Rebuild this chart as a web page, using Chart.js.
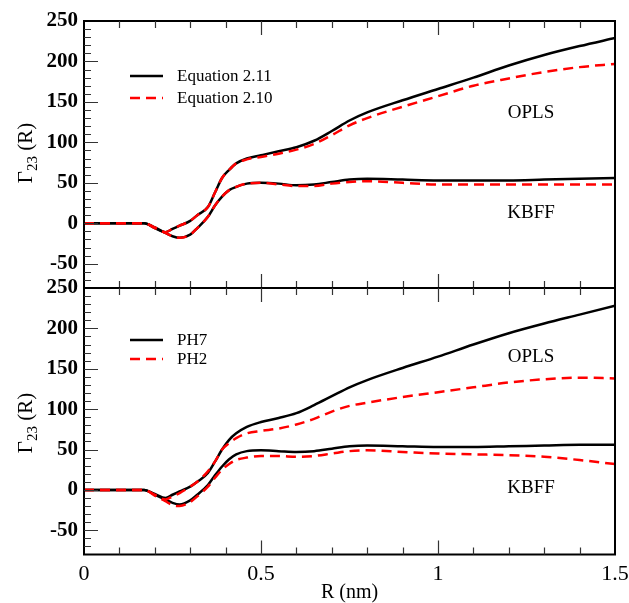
<!DOCTYPE html>
<html>
<head>
<meta charset="utf-8">
<script src="https://cdn.jsdelivr.net/npm/chart.js@4.4.1/dist/chart.umd.min.js"></script>
<style>
  body { margin: 0; background: #fff; }
  .wrap { position: relative; width: 629px; height: 603px; }
  canvas { position: absolute; left: 0; top: 0; }
</style>
</head>
<body>
<div class="wrap">
  <canvas id="topChart" width="629" height="603"></canvas>
  <canvas id="bottomChart" width="629" height="603"></canvas>
</div>
<script>

// =======================
// DATA
// =======================

const R = [0, 0.1, 0.17, 0.2, 0.23, 0.25, 0.27, 0.3, 0.32, 0.35, 0.37, 0.39, 0.41, 0.43, 0.46, 0.5,
           0.55, 0.6, 0.65, 0.7, 0.75, 0.8, 0.9, 1.0, 1.1, 1.2, 1.3, 1.4, 1.5];

// top panel
const eq211Opls = [0, 0, 0, -5, -11, -7, -3, 3, 10, 20, 38, 56, 66, 74, 80, 84,
                   89, 94, 102, 114, 127, 137, 152, 166, 180, 195, 208, 219, 229];
const eq210Opls = [0, 0, 0, -5, -11, -7, -3, 3, 10, 20, 38, 56, 66, 74, 79, 82,
                   86, 91, 98, 109, 121, 130, 144, 157, 170, 179, 187, 193, 197];
const eq211Kbff = [0, 0, 0, -6, -12, -16, -18, -14, -6, 8, 22, 33, 41, 45, 49, 50,
                   49, 47, 48, 51, 54, 55, 54, 53, 53, 53, 54, 55, 56];
const eq210Kbff = [0, 0, 0, -6, -12, -16, -18, -14, -6, 8, 22, 33, 41, 45, 49, 50,
                   48, 46, 46, 49, 51, 52, 50, 48, 48, 48, 48, 48, 48];

// bottom panel
const ph7Opls = [0, 0, 0, -5, -10, -6, -2, 4, 10, 21, 35, 50, 62, 70, 78, 84,
                 89, 95, 105, 116, 127, 136, 151, 165, 180, 194, 206, 217, 228];
const ph2Opls = [0, 0, 0, -6, -12, -8, -4, 4, 10, 23, 35, 50, 58, 64, 70, 73,
                 76, 81, 88, 97, 104, 108, 115, 121, 127, 133, 137, 139, 138];
const ph7Kbff = [0, 0, 0, -6, -12, -16, -18, -13, -6, 6, 18, 29, 38, 44, 48, 49,
                 48, 47, 48, 51, 54, 55, 54, 53, 53, 54, 55, 56, 56];
const ph2Kbff = [0, 0, 0, -7, -14, -19, -20, -15, -8, 4, 15, 25, 32, 37, 40, 42,
                 42, 41, 42, 45, 48, 49, 47, 45, 44, 43, 41, 37, 32];

const yTicks = [-50, 0, 50, 100, 150, 200, 250];
const xTicks = [0, 0.5, 1, 1.5];

const topLegend = ["Equation 2.11", "Equation 2.10"];
const bottomLegend = ["PH7", "PH2"];

// =======================
// HELPERS
// =======================

const SERIF = "'Liberation Serif', 'Times New Roman', serif";

function pts(vals) {
  return R.map((r, i) => ({ x: r, y: vals[i] }));
}

function solid(label, vals) {
  return {
    label: label, data: pts(vals), borderColor: "#000", borderWidth: 2.5,
    pointRadius: 0, cubicInterpolationMode: "monotone", order: 2
  };
}

function dashed(label, vals) {
  return {
    label: label, data: pts(vals), borderColor: "#ff0000", borderWidth: 2.5,
    borderDash: [10, 6], pointRadius: 0, cubicInterpolationMode: "monotone", order: 1
  };
}

// frame + inward ticks + labels drawn around the plot area
const framePlugin = {
  id: "frame",
  afterDraw(chart, args, opts) {
    const ctx = chart.ctx;
    const a = chart.chartArea;
    const xs = chart.scales.x, ys = chart.scales.y;
    ctx.save();
    ctx.strokeStyle = "#000";
    ctx.lineWidth = 2;
    ctx.strokeRect(a.left, a.top, a.right - a.left, a.bottom - a.top);

    ctx.lineWidth = 1.2;
    ctx.strokeStyle = "#333";
    ctx.beginPath();
    for (let i = 1; i < 15; i++) {
      const px = Math.round(xs.getPixelForValue(i / 10)) + 0.5;
      const len = i % 5 === 0 ? 14 : 7;
      ctx.moveTo(px, a.bottom); ctx.lineTo(px, a.bottom - len);
      ctx.moveTo(px, a.top); ctx.lineTo(px, a.top + len);
    }
    for (let v = -70; v < 250; v += 10) {
      const py = Math.round(ys.getPixelForValue(v)) + 0.5;
      const len = v % 50 === 0 ? 14 : 7;
      ctx.moveTo(a.left, py); ctx.lineTo(a.left + len, py);
    }
    ctx.stroke();

    // y title with subscript
    ctx.fillStyle = "#000";
    ctx.translate(26, opts.titleY);
    ctx.rotate(-Math.PI / 2);
    ctx.textBaseline = "middle";
    ctx.font = "21px " + SERIF;
    const w1 = ctx.measureText("\u0393").width;
    ctx.font = "15px " + SERIF;
    const w2 = ctx.measureText("23").width;
    ctx.font = "21px " + SERIF;
    const w3 = ctx.measureText(" (R)").width;
    let x0 = -(w1 + w2 + w3) / 2;
    ctx.textAlign = "left";
    ctx.fillText("\u0393", x0, 0);
    ctx.font = "15px " + SERIF;
    ctx.fillText("23", x0 + w1, 7);
    ctx.font = "21px " + SERIF;
    ctx.fillText(" (R)", x0 + w1 + w2, 0);
    ctx.setTransform(1, 0, 0, 1, 0, 0);

    // legend
    ctx.font = "17px " + SERIF;
    ctx.textAlign = "left";
    opts.legend.forEach((txt, i) => {
      const ds = chart.data.datasets.find(d => d.label === txt);
      const y = opts.legendY[i];
      ctx.beginPath();
      ctx.strokeStyle = ds.borderColor;
      ctx.lineWidth = 2.5;
      ctx.setLineDash(ds.borderDash || []);
      ctx.moveTo(130, y); ctx.lineTo(163, y);
      ctx.stroke();
      ctx.setLineDash([]);
      ctx.fillText(txt, 177, y + 1);
    });

    // curve names
    ctx.font = "19px " + SERIF;
    ctx.textAlign = "center";
    ctx.fillText("OPLS", 531, opts.oplsY);
    ctx.fillText("KBFF", 531, opts.kbffY);
    ctx.restore();
  }
};

function yScale() {
  return {
    min: -80, max: 250,
    afterFit: s => { s.width = 84; },
    afterBuildTicks: s => { s.ticks = yTicks.map(v => ({ value: v })); },
    grid: { display: false, drawTicks: false },
    border: { display: false },
    ticks: {
      padding: 6, color: "#000",
      font: { family: SERIF, size: 21, weight: "bold" },
      callback: v => String(v)
    }
  };
}

function fitX(h) {
  return s => {
    s.height = h;
    s.paddingLeft = 0;
    s.paddingRight = 0;
  };
}

// =======================
// TOP CHART
// =======================

new Chart(document.getElementById("topChart"), {
  type: "line",
  data: {
    datasets: [
      solid("Equation 2.11", eq211Opls),
      dashed("Equation 2.10", eq210Opls),
      solid("kbff 2.11", eq211Kbff),
      dashed("kbff 2.10", eq210Kbff)
    ]
  },
  options: {
    responsive: false,
    animation: false,
    layout: { padding: { top: 21, right: 14, bottom: 0, left: 0 } },
    plugins: {
      legend: { display: false },
      tooltip: { enabled: false },
      frame: { titleY: 153, legend: topLegend, legendY: [76, 98], oplsY: 113, kbffY: 213 }
    },
    scales: {
      x: {
        type: "linear", min: 0, max: 1.5,
        afterFit: fitX(603 - 288),
        grid: { display: false, drawTicks: false },
        border: { display: false },
        ticks: { display: false }
      },
      y: yScale()
    }
  },
  plugins: [framePlugin]
});

// =======================
// BOTTOM CHART
// =======================

new Chart(document.getElementById("bottomChart"), {
  type: "line",
  data: {
    datasets: [
      solid("PH7", ph7Opls),
      dashed("PH2", ph2Opls),
      solid("kbff ph7", ph7Kbff),
      dashed("kbff ph2", ph2Kbff)
    ]
  },
  options: {
    responsive: false,
    animation: false,
    layout: { padding: { top: 288, right: 14, bottom: 0, left: 0 } },
    plugins: {
      legend: { display: false },
      tooltip: { enabled: false },
      frame: { titleY: 423, legend: bottomLegend, legendY: [340, 359], oplsY: 357, kbffY: 488 }
    },
    scales: {
      x: {
        type: "linear", min: 0, max: 1.5,
        afterFit: fitX(603 - 554.5),
        afterBuildTicks: s => { s.ticks = xTicks.map(v => ({ value: v })); },
        grid: { display: false, drawTicks: false },
        border: { display: false },
        ticks: {
          padding: 7, color: "#000", maxRotation: 0,
          font: { family: SERIF, size: 22 },
          callback: v => String(v)
        },
        title: {
          display: true, text: "R (nm)", color: "#000",
          font: { family: SERIF, size: 20, lineHeight: 1 },
          padding: { top: 0, bottom: 0 }
        }
      },
      y: yScale()
    }
  },
  plugins: [framePlugin]
});

</script>
</body>
</html>
